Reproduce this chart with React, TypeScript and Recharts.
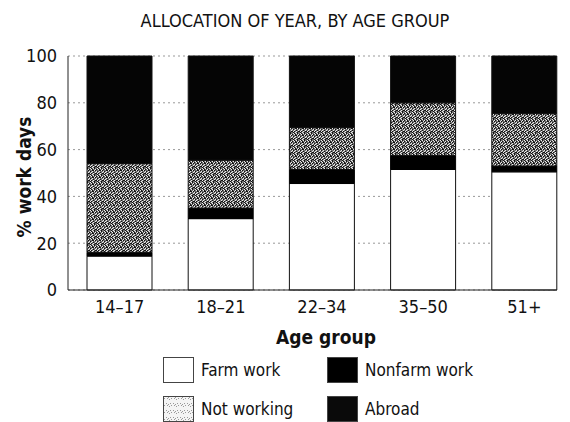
import React from "react";
import {
  BarChart,
  Bar,
  XAxis,
  YAxis,
  CartesianGrid,
  Label
} from "recharts";

const ageGroups = ["14–17", "18–21", "22–34", "35–50", "51+"];
const farmWork = [14.5, 30.5, 45.5, 51.5, 50.5];
const nonfarmWork = [1.5, 4.5, 6, 6, 2.5];
const notWorking = [38, 20.5, 18, 22.5, 22.5];
const abroad = [46, 44.5, 30.5, 20, 24.5];
const yTicks = [0, 20, 40, 60, 80, 100];

const data = ageGroups.map((g, i) => ({
  group: g,
  farm: farmWork[i],
  nonfarm: nonfarmWork[i],
  notWorking: notWorking[i],
  abroad: abroad[i]
}));

const FONT = "'DejaVu Sans Condensed', 'Liberation Sans Narrow', sans-serif";

// hand-placed speckles for the stipple fill
const darkDots = [[0,0],[3,0],[5,1],[1,2],[4,2],[6,3],[2,4],[0,5],[5,5],[3,6],[1,1],[6,6],[2,2],[4,5]];
const lightDots = [[2,0],[6,0],[0,1],[4,1],[3,2],[1,3],[5,3],[4,4],[0,4],[2,5],[6,5],[1,6]];

const legendItems = [
  { label: "Farm work", fill: "#fff" },
  { label: "Nonfarm work", fill: "#000" },
  { label: "Not working", fill: "url(#stipLight)" },
  { label: "Abroad", fill: "#0a0a0a" }
];

function LegendBox() {
  return (
    <div style={{ display: "grid", gridTemplateColumns: "164px 150px", rowGap: 13, fontFamily: FONT, fontSize: 17 }}>
      {legendItems.map((it) => (
        <div key={it.label} style={{ display: "flex", alignItems: "center", height: 26, whiteSpace: "nowrap" }}>
          <svg width={31} height={26} style={{ marginRight: 7, flex: "none" }}>
            <rect x={0.5} y={0.5} width={30} height={25} fill={it.fill} stroke="#444" strokeWidth={1} />
          </svg>
          <span style={{ color: "#111" }}>{it.label}</span>
        </div>
      ))}
    </div>
  );
}

export default function App() {
  return (
    <div style={{ position: "absolute", top: 0, left: 0, width: 570, height: 422, background: "#fff" }}>
      <svg width={0} height={0} style={{ position: "absolute" }}>
        <defs>
          <pattern id="stip" width={7} height={7} patternUnits="userSpaceOnUse">
            <rect width={7} height={7} fill="#707070" />
            {darkDots.map(([x, y]) => <rect key={"d" + x + y} x={x} y={y} width={1} height={1} fill="#111" />)}
            {lightDots.map(([x, y]) => <rect key={"l" + x + y} x={x} y={y} width={1} height={1} fill="#eee" />)}
          </pattern>
          <pattern id="stipLight" width={7} height={7} patternUnits="userSpaceOnUse">
            <rect width={7} height={7} fill="#f4f4f4" />
            {darkDots.slice(0, 6).map(([x, y]) => <rect key={"d" + x + y} x={x} y={y} width={1} height={1} fill="#999" />)}
          </pattern>
        </defs>
      </svg>
      <div style={{ position: "absolute", top: 10, left: 0, width: 590, textAlign: "center", fontFamily: FONT, fontSize: 18, color: "#111" }}>
        ALLOCATION OF YEAR, BY AGE GROUP
      </div>
      <BarChart
        width={570}
        height={422}
        data={data}
        margin={{ top: 56, right: 13, bottom: 112, left: 38 }}
        barSize={65}
      >
        <CartesianGrid vertical={false} stroke="#999" strokeDasharray="2 3" />
        <XAxis
          dataKey="group"
          padding={{ left: 1, right: -18 }}
          axisLine={{ stroke: "#222" }}
          tickLine={false}
          height={20}
          tick={{ fill: "#111", fontSize: 18, fontFamily: FONT }}
          tickMargin={4}
        >
          <Label
            content={() => (
              <text x={326} y={344} textAnchor="middle" fontFamily={FONT} fontSize={19} fontWeight="bold" fill="#111">
                Age group
              </text>
            )}
          />
        </XAxis>
        <YAxis
          domain={[0, 100]}
          ticks={yTicks}
          width={30}
          axisLine={{ stroke: "#222" }}
          tickLine={false}
          tickMargin={5}
          tick={{ fill: "#111", fontSize: 18, fontFamily: FONT }}
        >
          <Label
            content={() => (
              <text x={25} y={177} transform="rotate(-90 25 177)" textAnchor="middle" dominantBaseline="middle" fontFamily={FONT} fontSize={19} fontWeight="bold" fill="#111">
                % work days
              </text>
            )}
          />
        </YAxis>
        <Bar dataKey="farm" stackId="a" fill="#fff" stroke="#111" strokeWidth={1} isAnimationActive={false} />
        <Bar dataKey="nonfarm" stackId="a" fill="#000" stroke="#000" strokeWidth={1} isAnimationActive={false} />
        <Bar dataKey="notWorking" stackId="a" fill="url(#stip)" stroke="#111" strokeWidth={1} isAnimationActive={false} />
        <Bar dataKey="abroad" stackId="a" fill="#050505" stroke="#111" strokeWidth={1} isAnimationActive={false} />
      </BarChart>
      <div style={{ position: "absolute", top: 357, left: 163 }}>
        <LegendBox />
      </div>
    </div>
  );
}
